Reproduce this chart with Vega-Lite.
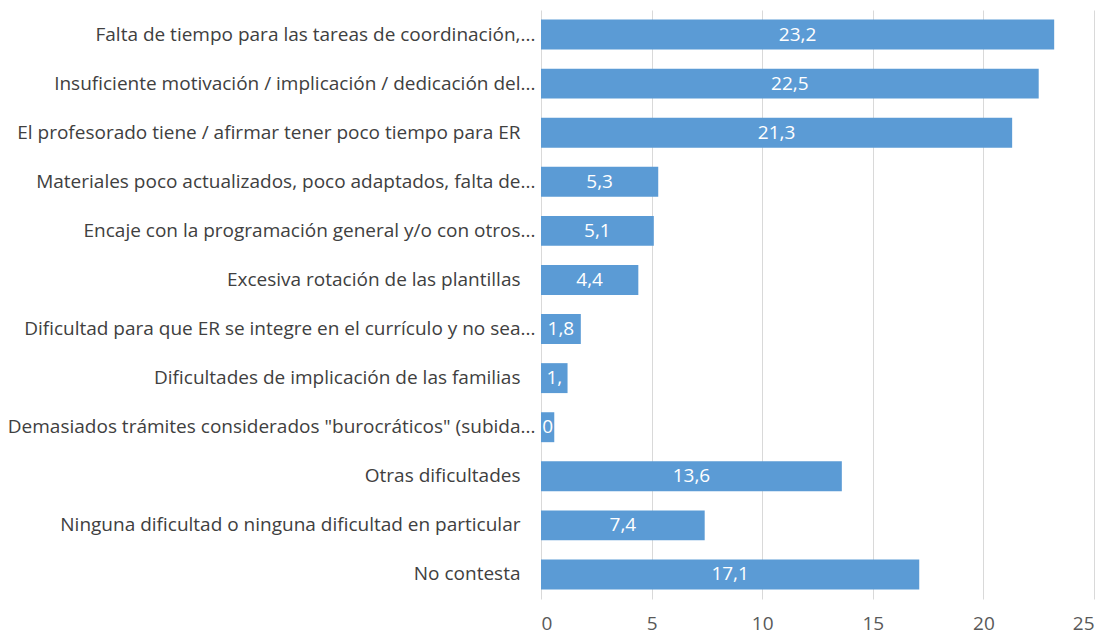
{
  "$schema": "https://vega.github.io/schema/vega-lite/v6.json",
  "width": 553,
  "height": 589,
  "autosize": {"type": "none"},
  "padding": {"left": 541, "top": 10, "right": 13, "bottom": 35},
  "background": "white",
  "config": {
    "locale": {"number": {"decimal": ",", "thousands": ".", "grouping": [3], "currency": ["", " €"]}},
    "view": {"stroke": null},
    "font": "Open Sans"
  },
  "data": {
    "values": [
      {"cat": "Falta de tiempo para las tareas de coordinación,...", "value": 23.2},
      {"cat": "Insuficiente motivación / implicación / dedicación del...", "value": 22.5},
      {"cat": "El profesorado tiene / afirmar tener poco tiempo para ER", "value": 21.3},
      {"cat": "Materiales poco actualizados, poco adaptados, falta de...", "value": 5.3},
      {"cat": "Encaje con la programación general y/o con otros...", "value": 5.1},
      {"cat": "Excesiva rotación de las plantillas", "value": 4.4},
      {"cat": "Dificultad para que ER se integre en el currículo y no sea...", "value": 1.8},
      {"cat": "Dificultades de implicación de las familias", "value": 1.2},
      {"cat": "Demasiados trámites considerados \"burocráticos\" (subida...", "value": 0.6},
      {"cat": "Otras dificultades", "value": 13.6},
      {"cat": "Ninguna dificultad o ninguna dificultad en particular", "value": 7.4},
      {"cat": "No contesta", "value": 17.1}
    ]
  },
  "encoding": {
    "y": {
      "field": "cat", "type": "nominal", "sort": null,
      "scale": {"paddingInner": 0.39, "paddingOuter": 0.195},
      "axis": {
        "title": null, "ticks": false, "domain": false, "labelFontSize": 19, "labelColor": "#404040",
        "labelPadding": {"condition": {"test": "indexof(datum.label, '...') >= 0", "value": 6}, "value": 21},
        "labelLimit": 0, "labelFont": "Open Sans"
      }
    },
    "x": {
      "field": "value", "type": "quantitative",
      "scale": {"domain": [0, 25], "nice": false},
      "axis": {"title": null, "values": [0, 5, 10, 15, 20, 25], "format": "d", "ticks": false, "domain": false, "gridColor": "#D9D9D9", "gridWidth": 1, "labelFontSize": 19, "labelColor": "#595959", "labelPadding": 30, "labelBaseline": "alphabetic", "labelFont": "Open Sans"}
    }
  },
  "layer": [
    {"mark": {"type": "bar", "color": "#5B9BD5"}},
    {
      "mark": {"type": "text", "color": "white", "fontSize": 19, "align": "center", "baseline": "middle", "ellipsis": "\u200b", "limit": {"expr": "scale('x', datum.value) - 2"}, "dx": {"expr": "-scale('x', datum.value) / 2"}},
      "encoding": {
        "text": {"field": "value", "type": "quantitative", "format": ".1f"}
      }
    }
  ]
}
